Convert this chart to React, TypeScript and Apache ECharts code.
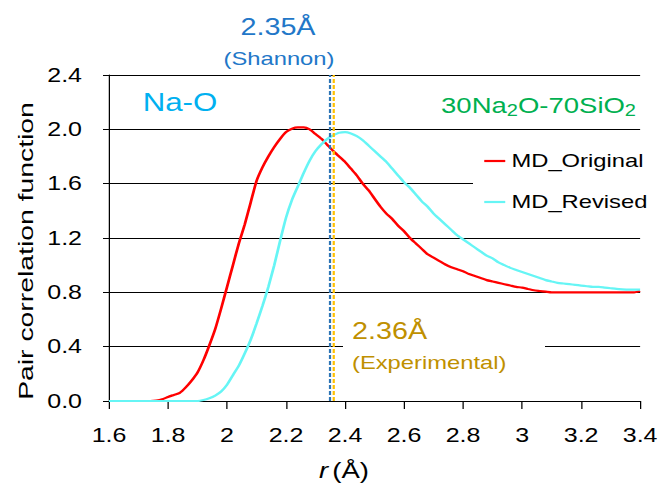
import React, { useEffect, useRef } from "react";
import * as echarts from "echarts";

// r values (Å)
const rValues = [
  1.6, 1.62, 1.64, 1.66, 1.68, 1.7, 1.72, 1.74, 1.76, 1.78,
  1.8, 1.82, 1.84, 1.86, 1.88, 1.9, 1.92, 1.94, 1.96, 1.98,
  2.0, 2.02, 2.04, 2.06, 2.08, 2.1, 2.12, 2.14, 2.16, 2.18,
  2.2, 2.22, 2.24, 2.26, 2.28, 2.3, 2.32, 2.34, 2.36, 2.38,
  2.4, 2.42, 2.44, 2.46, 2.48, 2.5, 2.52, 2.54, 2.56, 2.58,
  2.6, 2.62, 2.64, 2.66, 2.68, 2.7, 2.72, 2.74, 2.76, 2.78,
  2.8, 2.82, 2.84, 2.86, 2.88, 2.9, 2.92, 2.94, 2.96, 2.98,
  3.0, 3.02, 3.04, 3.06, 3.08, 3.1, 3.12, 3.14, 3.16, 3.18,
  3.2, 3.22, 3.24, 3.26, 3.28, 3.3, 3.32, 3.34, 3.36, 3.38,
  3.4,
];

const mdOriginal = [
  0, 0, 0, 0, 0, 0, 0, 0, 0.003, 0.012,
  0.03, 0.045, 0.06, 0.1, 0.15, 0.21, 0.3, 0.41, 0.53, 0.68,
  0.84, 1.0, 1.16, 1.3, 1.46, 1.62, 1.72, 1.8, 1.87, 1.93,
  1.98, 2.005, 2.015, 2.015, 2.0, 1.965, 1.93, 1.885, 1.84, 1.8,
  1.76, 1.71, 1.66, 1.6, 1.55, 1.49, 1.43, 1.38, 1.34, 1.29,
  1.25, 1.2, 1.16, 1.12, 1.08, 1.055, 1.03, 1.005, 0.985, 0.97,
  0.955, 0.935, 0.92, 0.905, 0.89, 0.88, 0.87, 0.86, 0.85, 0.84,
  0.835, 0.825, 0.815, 0.81, 0.805, 0.8, 0.8, 0.8, 0.8, 0.8,
  0.8, 0.8, 0.8, 0.8, 0.8, 0.8, 0.8, 0.8, 0.8, 0.8,
  0.81,
];

const mdRevised = [
  0, 0, 0, 0, 0, 0, 0, 0, 0, 0,
  0, 0, 0, 0, 0, 0, 0.007, 0.02, 0.04, 0.07,
  0.12, 0.19, 0.26, 0.35, 0.45, 0.57, 0.7, 0.84, 1.0, 1.18,
  1.35, 1.48, 1.58, 1.68, 1.77, 1.84, 1.89, 1.93, 1.955, 1.975,
  1.98, 1.97, 1.95, 1.92, 1.88, 1.84, 1.8, 1.76, 1.71, 1.66,
  1.61, 1.57, 1.52, 1.47, 1.43, 1.38, 1.34, 1.3, 1.26, 1.22,
  1.19, 1.16, 1.13, 1.1, 1.07, 1.05, 1.02, 1.0, 0.98, 0.965,
  0.95, 0.935, 0.92, 0.905, 0.89, 0.88, 0.87, 0.865, 0.86, 0.855,
  0.85, 0.845, 0.84, 0.84, 0.835, 0.83, 0.825, 0.822, 0.82, 0.82,
  0.82,
];

const SHANNON_R = 2.35;
const EXPERIMENTAL_R = 2.36;
const seriesNames = ["MD_Original", "MD_Revised"];

const STRETCH = 1.25;
const W = 661 / STRETCH;
const H = 486;
const FONT = "'Liberation Sans', Arial, sans-serif";
const X = (v: number) => v / STRETCH;

export default function App() {
  const ref = useRef<HTMLDivElement>(null);
  useEffect(() => {
    if (!ref.current) return;
    const chart = echarts.init(ref.current, null, { renderer: "svg" });
    const pairs = (ys: number[]) => rValues.map((r, i) => [r, ys[i]]);
    chart.setOption({
      animation: false,
      backgroundColor: "#ffffff",
      grid: { left: X(109), right: W - X(642), top: 75, bottom: 85 },
      xAxis: {
        type: "value",
        min: 1.6,
        max: 3.4,
        interval: 0.2,
        axisLine: { show: true, lineStyle: { color: "#000", width: 1 } },
        axisTick: { show: true, inside: false, length: 8, lineStyle: { color: "#000" } },
        axisLabel: { color: "#000", fontSize: 20, fontFamily: FONT, margin: 24 },
        splitLine: { show: false },
      },
      yAxis: {
        type: "value",
        min: 0,
        max: 2.4,
        interval: 0.4,
        axisLine: { show: true, lineStyle: { color: "#000", width: 1 } },
        axisTick: { show: true, inside: false, length: X(6), lineStyle: { color: "#000" } },
        axisLabel: {
          color: "#000",
          fontSize: 20,
          fontFamily: FONT,
          margin: X(27),
          formatter: (v: number) => v.toFixed(1),
        },
        splitLine: { show: true, lineStyle: { color: "#000", width: 1 } },
      },
      legend: {
        data: seriesNames.map((n) => ({ name: n, icon: "rect" })),
        orient: "vertical",
        left: X(478),
        top: 146,
        itemWidth: X(21),
        itemHeight: 2.2,
        itemGap: 21,
        textStyle: { color: "#000", fontSize: 19, fontFamily: FONT, lineHeight: 20 },
      },
      graphic: [
        {
          type: "rect",
          z: 1,
          silent: true,
          shape: { x: X(473), y: 140, width: W - X(473), height: 85 },
          style: { fill: "#fff" },
        },
        {
          type: "rect",
          z: 1,
          silent: true,
          shape: { x: X(343), y: 318, width: X(545) - X(343), height: 60 },
          style: { fill: "#fff" },
        },
        {
          type: "text",
          z: 5,
          x: X(278),
          y: 27,
          style: {
            text: "2.35Å",
            fill: "#2277C8",
            font: `23px ${FONT}`,
            textAlign: "center",
            textVerticalAlign: "middle",
          },
        },
        {
          type: "text",
          z: 5,
          x: X(279),
          y: 59,
          style: {
            text: "(Shannon)",
            fill: "#2277C8",
            font: `19px ${FONT}`,
            textAlign: "center",
            textVerticalAlign: "middle",
          },
        },
        {
          type: "text",
          z: 5,
          x: X(180),
          y: 102,
          style: {
            text: "Na-O",
            fill: "#00B0F0",
            font: `25px ${FONT}`,
            textAlign: "center",
            textVerticalAlign: "middle",
          },
        },
        {
          type: "text",
          z: 5,
          x: X(636),
          y: 105,
          style: {
            text: "{n|30Na}{s|2}{n|O-70SiO}{s|2}",
            textAlign: "right",
            textVerticalAlign: "middle",
            rich: {
              n: { fontSize: 22, fontFamily: FONT, fill: "#00B050", color: "#00B050", lineHeight: 28 },
              s: {
                fontSize: 16,
                fontFamily: FONT,
                fill: "#00B050",
                color: "#00B050",
                padding: [12, 0, 0, 0],
              },
            },
          },
        },
        {
          type: "text",
          z: 5,
          x: X(352),
          y: 331,
          style: {
            text: "2.36Å",
            fill: "#BF9000",
            font: `23px ${FONT}`,
            textAlign: "left",
            textVerticalAlign: "middle",
          },
        },
        {
          type: "text",
          z: 5,
          x: X(352),
          y: 363,
          style: {
            text: "(Experimental)",
            fill: "#BF9000",
            font: `19px ${FONT}`,
            textAlign: "left",
            textVerticalAlign: "middle",
          },
        },
        {
          type: "text",
          z: 5,
          x: X(25),
          y: 251,
          rotation: Math.PI / 2,
          scaleX: 1.35,
          scaleY: 1 / STRETCH,
          style: {
            text: "Pair correlation function",
            fill: "#000",
            font: `21px ${FONT}`,
            textAlign: "center",
            textVerticalAlign: "middle",
          },
        },
        {
          type: "text",
          z: 5,
          x: X(344),
          y: 470,
          style: {
            text: "{i|r} {n|(Å)}",
            textAlign: "center",
            textVerticalAlign: "middle",
            rich: {
              i: { fontSize: 22, fontStyle: "italic", fontFamily: FONT, fill: "#000", color: "#000" },
              n: { fontSize: 22, fontFamily: FONT, fill: "#000", color: "#000" },
            },
          },
        },
      ],
      series: [
        {
          name: seriesNames[0],
          type: "line",
          data: pairs(mdOriginal),
          symbol: "none",
          smooth: 0.2,
          z: 3,
          lineStyle: { color: "#FF0000", width: 2.2 },
          itemStyle: { color: "#FF0000" },
          markLine: {
            silent: true,
            symbol: ["none", "none"],
            label: { show: false },
            data: [
              { xAxis: SHANNON_R, lineStyle: { color: "#2E75B6", type: [4, 2], width: X(2.2) } },
              { xAxis: EXPERIMENTAL_R, lineStyle: { color: "#FFC000", type: [4, 2], width: X(2.2) } },
            ],
          },
        },
        {
          name: seriesNames[1],
          type: "line",
          data: pairs(mdRevised),
          symbol: "none",
          smooth: 0.2,
          z: 3,
          lineStyle: { color: "#66F5F5", width: 2.2 },
          itemStyle: { color: "#66F5F5" },
        },
      ],
    });
    return () => chart.dispose();
  }, []);
  return (
    <div
      style={{
        position: "fixed",
        left: 0,
        top: 0,
        width: 661,
        height: 486,
        overflow: "hidden",
        background: "#fff",
      }}
    >
      <div
        ref={ref}
        style={{ width: W, height: H, transform: `scaleX(${STRETCH})`, transformOrigin: "0 0" }}
      />
    </div>
  );
}
